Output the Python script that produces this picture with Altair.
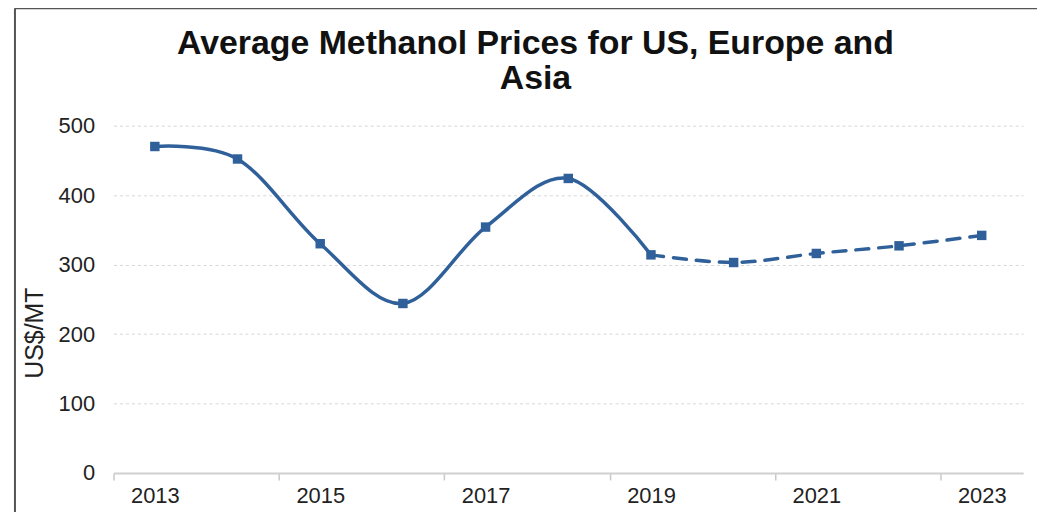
import altair as alt
import pandas as pd

years = [2013, 2014, 2015, 2016, 2017, 2018, 2019, 2020, 2021, 2022, 2023]
prices = [470, 452, 330, 244, 354, 424, 314, 303, 316, 327, 342]
segment = ["actual"] * 7 + ["forecast"] * 4
tick_years = [2013, 2015, 2017, 2019, 2021, 2023]
y_ticks = [0, 100, 200, 300, 400, 500]
title_lines = "Average Methanol Prices for US, Europe and\nAsia"

COLOR = "#30609a"
W, H = 914, 349
BAND = W / 11.0

df = pd.DataFrame({"year": years, "price": prices, "seg": segment})
solid_df = df[df["seg"] == "actual"]
dash_df = df[df["year"] >= 2019]

x_enc = alt.X(
    "year:Q",
    scale=alt.Scale(domain=[2012.5, 2023.5], nice=False, zero=False),
    axis=alt.Axis(
        values=tick_years,
        format="d",
        title=None,
        grid=False,
        tickOffset=-BAND / 2,
        labelOffset=BAND / 2,
        tickSize=7,
        tickColor="#c8c8c8",
        tickWidth=1.5,
        domainColor="#d0d0d0",
        domainWidth=2,
        labelFont="Liberation Sans",
        labelFontSize=22,
        labelColor="#222222",
        labelPadding=6,
    ),
)
y_enc = alt.Y(
    "price:Q",
    scale=alt.Scale(domain=[0, 500], nice=False),
    axis=alt.Axis(
        values=y_ticks,
        title="US$/MT",
        titleFont="Liberation Sans",
        titleFontSize=25,
        titleFontWeight="normal",
        titleColor="#222222",
        titlePadding=11,
        titleY=208,
        ticks=False,
        domain=False,
        grid=True,
        gridColor="#d6d6d6",
        gridDash=[3, 3],
        gridWidth=1,
        labelFont="Liberation Sans",
        labelFontSize=22,
        labelColor="#222222",
        labelPadding=19,
    ),
)

solid = alt.Chart(solid_df).mark_line(
    color=COLOR, strokeWidth=3.5, interpolate="cardinal"
).encode(x=x_enc, y=y_enc)

dashed = alt.Chart(dash_df).mark_line(
    color=COLOR, strokeWidth=3.5, interpolate="cardinal",
    strokeDash=[13, 10], strokeCap="round"
).encode(x=x_enc, y=y_enc)

points = alt.Chart(df).mark_point(
    shape="square", filled=True, color=COLOR, size=90, opacity=1
).encode(x=x_enc, y=y_enc)

one = pd.DataFrame({"k": [0]})
border_top = alt.Chart(one).mark_rule(
    color="#555555", strokeWidth=2, clip=False
).encode(x=alt.value(-99), x2=alt.value(W + 40), y=alt.value(-118))
border_left = alt.Chart(one).mark_rule(
    color="#555555", strokeWidth=2, clip=False
).encode(x=alt.value(-99), y=alt.value(-118), y2=alt.value(H + 80))

title = alt.Chart(one).mark_text(
    font="Liberation Sans", fontSize=34, fontWeight="bold", color="#111111",
    align="center", baseline="alphabetic", lineBreak="\n", lineHeight=35,
    clip=False,
).encode(x=alt.value(424), y=alt.value(-72), text=alt.value(title_lines))

chart = alt.layer(border_top, border_left, title, solid, dashed, points).properties(
    width=W,
    height=H,
    autosize=alt.AutoSizeParams(type="none"),
    padding={"left": 106, "top": 117, "right": 14, "bottom": 38},
).configure_view(stroke=None)

chart.save("out.html", embed_options={"renderer": "svg", "actions": False})
